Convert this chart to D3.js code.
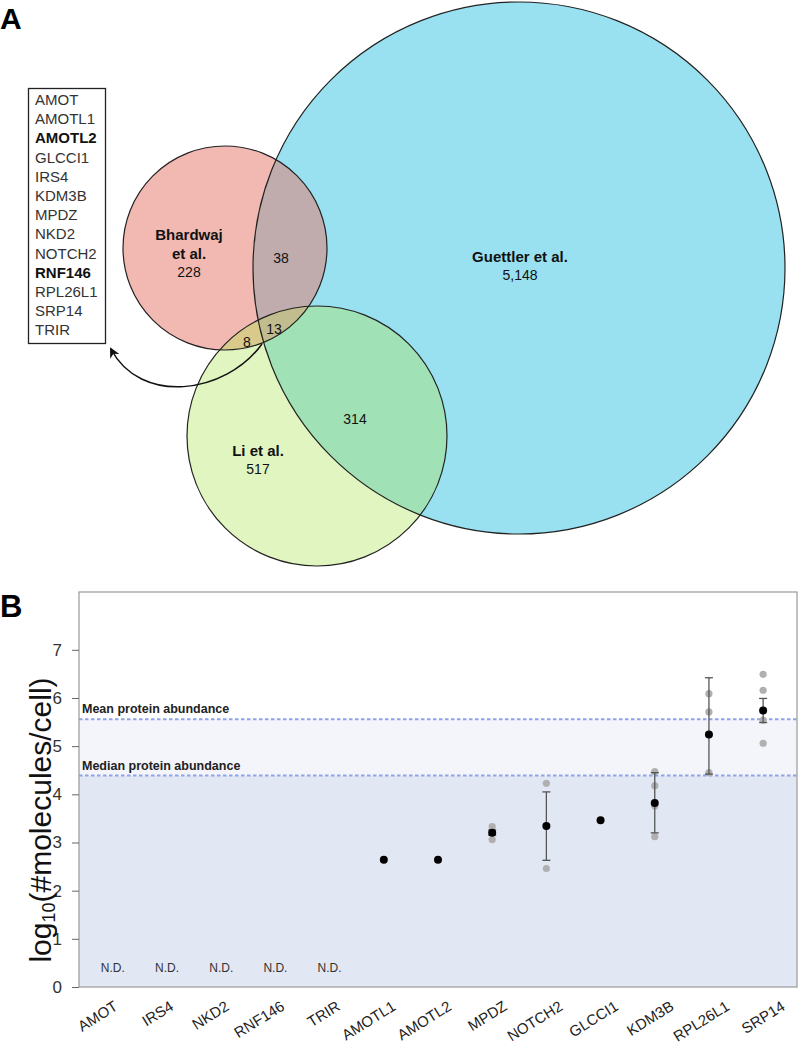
<!DOCTYPE html>
<html>
<head>
<meta charset="utf-8">
<script src="https://cdn.jsdelivr.net/npm/d3@7"></script>
<style>
  body { margin: 0; background: #fff; }
  text { font-family: "Liberation Sans", Arial, sans-serif; }
</style>
</head>
<body>
<svg id="fig" width="800" height="1046"></svg>
<script>
// ---- panel A data ----
const setNames = ['Guettler et al.', 'Bhardwaj\net al.', 'Li et al.'];
const setOnly = [5148, 228, 517];
const pairOverlaps = [38, 314, 8];   // G∩B, G∩L, B∩L
const tripleOverlap = 13;
const listGenes = ['AMOT', 'AMOTL1', 'AMOTL2', 'GLCCI1', 'IRS4', 'KDM3B', 'MPDZ',
  'NKD2', 'NOTCH2', 'RNF146', 'RPL26L1', 'SRP14', 'TRIR'];
const boldGenes = ['AMOTL2', 'RNF146'];

// ---- panel B data ----
const genes = ['AMOT', 'IRS4', 'NKD2', 'RNF146', 'TRIR', 'AMOTL1', 'AMOTL2',
  'MPDZ', 'NOTCH2', 'GLCCI1', 'KDM3B', 'RPL26L1', 'SRP14'];
const meanVals = [null, null, null, null, null, 2.64, 2.64, 3.20, 3.34, 3.46, 3.82, 5.24, 5.74];
const errLow  = [null, null, null, null, null, null, null, 3.15, 2.63, null, 3.20, 4.42, 5.49];
const errHigh = [null, null, null, null, null, null, null, 3.26, 4.05, null, 4.45, 6.42, 5.99];
const replicates = [[], [], [], [], [], [], [],
  [3.33, 3.06, 3.22], [4.23, 2.46], [], [4.47, 4.18, 3.76, 3.12],
  [6.09, 5.71, 4.45], [6.49, 6.16, 5.54, 5.06]];
const meanAbundance = 5.56;
const medianAbundance = 4.39;
const yTicks = [0, 1, 2, 3, 4, 5, 6, 7];

const svg = d3.select('#fig');

// ================= Panel A =================
svg.append('text').attr('x', 0).attr('y', 29)
  .attr('font-size', 30).attr('font-weight', 'bold').text('A');

// hand placed circles (sizes not proportional)
const circ = [
  { cx: 519, cy: 268, r: 266, fill: '#99e1f0' },
  { cx: 225, cy: 248, r: 102, fill: '#f2b9b3' },
  { cx: 317, cy: 436, r: 130, fill: '#e0f5c0' }
];
const defs = svg.append('defs');
circ.forEach((c, i) => {
  defs.append('clipPath').attr('id', 'clip' + i)
    .append('circle').attr('cx', c.cx).attr('cy', c.cy).attr('r', c.r);
});

const venn = svg.append('g');
venn.selectAll('circle.base').data(circ).join('circle')
  .attr('class', 'base')
  .attr('cx', d => d.cx).attr('cy', d => d.cy).attr('r', d => d.r)
  .attr('fill', d => d.fill);

function overlap(clipIdx, circleIdx, color) {
  let g = venn.append('g').attr('clip-path', `url(#clip${clipIdx[0]})`);
  for (let k = 1; k < clipIdx.length; k++) {
    g = g.append('g').attr('clip-path', `url(#clip${clipIdx[k]})`);
  }
  const c = circ[circleIdx];
  g.append('circle').attr('cx', c.cx).attr('cy', c.cy).attr('r', c.r).attr('fill', color);
}
overlap([1], 0, '#c0acac');
overlap([2], 0, '#a0e1b5');
overlap([1], 2, '#d9c98b');
overlap([1, 2], 0, '#c1bd8e');

venn.selectAll('circle.edge').data(circ).join('circle')
  .attr('class', 'edge')
  .attr('cx', d => d.cx).attr('cy', d => d.cy).attr('r', d => d.r)
  .attr('fill', 'none').attr('stroke', '#222').attr('stroke-width', 1.2);

const fmt = d3.format(',');
const setLabelPos = [[520, 262], [189, 240], [258, 456]];
setNames.forEach((name, i) => {
  const lines = name.split('\n');
  const [lx, ly] = setLabelPos[i];
  lines.forEach((ln, j) => {
    venn.append('text').attr('x', lx).attr('y', ly + j * 19)
      .attr('text-anchor', 'middle').attr('font-size', 15).attr('font-weight', 'bold')
      .attr('fill', '#111').text(ln);
  });
  venn.append('text').attr('x', lx).attr('y', ly + lines.length * 19 - 1)
    .attr('text-anchor', 'middle').attr('font-size', 14)
    .attr('font-family', '"Open Sans", sans-serif').attr('fill', '#111')
    .text(fmt(setOnly[i]));
});
const pairPos = [[281, 263], [355, 424], [247, 347]];
pairOverlaps.forEach((n, i) => {
  venn.append('text').attr('x', pairPos[i][0]).attr('y', pairPos[i][1])
    .attr('text-anchor', 'middle').attr('font-size', 14)
    .attr('font-family', '"Open Sans", sans-serif').attr('fill', '#111').text(n);
});
venn.append('text').attr('x', 274).attr('y', 334)
  .attr('text-anchor', 'middle').attr('font-size', 14)
  .attr('font-family', '"Open Sans", sans-serif').attr('fill', '#111').text(tripleOverlap);

// gene list box
const box = svg.append('g');
box.append('rect').attr('x', 28.5).attr('y', 88.5).attr('width', 77).attr('height', 255)
  .attr('fill', '#fff').attr('stroke', '#222').attr('stroke-width', 1.3);
box.selectAll('text').data(listGenes).join('text')
  .attr('x', 35).attr('y', (d, i) => 105 + i * 19.2)
  .attr('font-size', 15)
  .attr('font-weight', d => boldGenes.includes(d) ? 'bold' : 'normal')
  .attr('fill', d => boldGenes.includes(d) ? '#111' : '#333')
  .text(d => d);

// arrow
defs.append('marker').attr('id', 'arrowhead').attr('viewBox', '0 0 10 10')
  .attr('refX', 8).attr('refY', 5).attr('markerWidth', 7).attr('markerHeight', 7)
  .attr('orient', 'auto-start-reverse')
  .append('path').attr('d', 'M0,0 L10,5 L0,10 L3,5 Z').attr('fill', '#111');
svg.append('path')
  .attr('d', 'M262,344 C225,395 140,405 111,349')
  .attr('fill', 'none').attr('stroke', '#111').attr('stroke-width', 1.5)
  .attr('marker-end', 'url(#arrowhead)');

// ================= Panel B =================
svg.append('text').attr('x', 0).attr('y', 617)
  .attr('font-size', 31).attr('font-weight', 'bold').text('B');

const pL = 79, pR = 797, pT = 592, pB = 987;
const y = d3.scaleLinear().domain([0, 8.2]).range([pB, pT]);
const x = d3.scalePoint().domain(genes).range([pL, pR]).padding(0.625);
// tick labels sit on a slightly wider, evenly spaced grid than the points
const xl = d3.scalePoint().domain(genes)
  .range([x(genes[0]) + 6, x(genes[genes.length - 1]) + 23]);

const plot = svg.append('g');
plot.append('rect').attr('x', pL).attr('y', pT).attr('width', pR - pL).attr('height', pB - pT)
  .attr('fill', '#fff');
plot.append('rect').attr('x', pL).attr('y', y(meanAbundance))
  .attr('width', pR - pL).attr('height', y(medianAbundance) - y(meanAbundance))
  .attr('fill', '#f3f5fb');
plot.append('rect').attr('x', pL).attr('y', y(medianAbundance))
  .attr('width', pR - pL).attr('height', pB - y(medianAbundance))
  .attr('fill', '#e1e7f3');

[meanAbundance, medianAbundance].forEach(v => {
  plot.append('line').attr('x1', pL).attr('x2', pR).attr('y1', y(v)).attr('y2', y(v))
    .attr('stroke', '#8ea4ea').attr('stroke-width', 2).attr('stroke-dasharray', '3.5,2.5');
});
plot.append('text').attr('x', pL + 3).attr('y', y(meanAbundance) - 6)
  .attr('font-size', 12.5).attr('font-weight', 'bold').attr('fill', '#222').text('Mean protein abundance');
plot.append('text').attr('x', pL + 3).attr('y', y(medianAbundance) - 6)
  .attr('font-size', 12.5).attr('font-weight', 'bold').attr('fill', '#222').text('Median protein abundance');

plot.append('rect').attr('x', pL).attr('y', pT).attr('width', pR - pL).attr('height', pB - pT)
  .attr('fill', 'none').attr('stroke', '#999').attr('stroke-width', 1.2);

// y axis
const yAxis = svg.append('g').attr('transform', `translate(${pL},0)`)
  .call(d3.axisLeft(y).tickValues(yTicks).tickSize(7).tickPadding(10));
yAxis.select('.domain').remove();
yAxis.selectAll('line').attr('stroke', '#666');
yAxis.selectAll('text').attr('font-size', 17).attr('fill', '#333')
  .attr('font-family', '"Open Sans", sans-serif');

// y label
const yl = svg.append('text').attr('transform', 'translate(51,820) rotate(-90)')
  .attr('text-anchor', 'middle').attr('font-size', 30).attr('fill', '#111');
yl.append('tspan').text('log');
yl.append('tspan').attr('font-size', 18).attr('baseline-shift', '-20%').text('10');
yl.append('tspan').text('(#molecules/cell)');

// x labels
svg.append('g').selectAll('text').data(genes).join('text')
  .attr('transform', d => `translate(${xl(d)},${pB + 22}) rotate(-32)`)
  .attr('x', 0).attr('y', 0)
  .attr('text-anchor', 'end')
  .attr('font-size', 15).attr('fill', '#222')
  .text(d => d);

// N.D.
genes.forEach((g, i) => {
  if (meanVals[i] === null) {
    plot.append('text').attr('x', x(g)).attr('y', 972)
      .attr('text-anchor', 'middle').attr('font-size', 12).attr('fill', '#333').text('N.D.');
  }
});

// replicates
const reps = [];
genes.forEach((g, i) => replicates[i].forEach(v => reps.push({ g, v })));
plot.selectAll('circle.rep').data(reps).join('circle')
  .attr('class', 'rep')
  .attr('cx', d => x(d.g)).attr('cy', d => y(d.v)).attr('r', 3.6)
  .attr('fill', '#b0b0b0');

// error bars
const errs = genes.map((g, i) => ({ g, lo: errLow[i], hi: errHigh[i] })).filter(d => d.lo !== null);
const eb = plot.selectAll('g.err').data(errs).join('g').attr('class', 'err')
  .attr('stroke', '#555').attr('stroke-width', 1.3);
eb.append('line').attr('x1', d => x(d.g)).attr('x2', d => x(d.g))
  .attr('y1', d => y(d.lo)).attr('y2', d => y(d.hi));
eb.append('line').attr('x1', d => x(d.g) - 4).attr('x2', d => x(d.g) + 4)
  .attr('y1', d => y(d.lo)).attr('y2', d => y(d.lo));
eb.append('line').attr('x1', d => x(d.g) - 4).attr('x2', d => x(d.g) + 4)
  .attr('y1', d => y(d.hi)).attr('y2', d => y(d.hi));

// means
const means = genes.map((g, i) => ({ g, v: meanVals[i] })).filter(d => d.v !== null);
plot.selectAll('circle.mean').data(means).join('circle')
  .attr('class', 'mean')
  .attr('cx', d => x(d.g)).attr('cy', d => y(d.v)).attr('r', 4)
  .attr('fill', '#000');
</script>
</body>
</html>
